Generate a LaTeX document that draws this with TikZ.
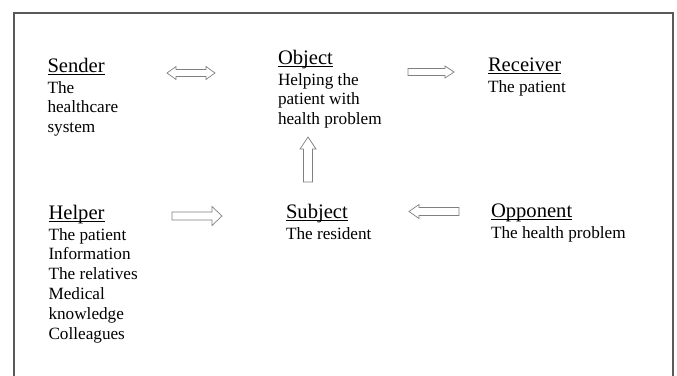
\documentclass[tikz,border=0pt]{standalone}
\usepackage{fontspec}
\setmainfont{Liberation Serif}
\newcommand\ttlfont{\fontsize{20.6pt}{24pt}\selectfont}
\newcommand\bodyfont{\fontsize{17.2pt}{19.8pt}\selectfont}
\newcommand\myul[1]{\setbox0\hbox{#1}\rlap{\rule[-2.4pt]{\wd0}{0.8pt}}\box0}
\newcommand\bline[1]{\hbox{\bodyfont #1}}
\newcommand\blockttl[1]{\hbox{\ttlfont\myul{#1}}\vskip1.2pt}
\begin{document}
\begin{tikzpicture}[x=1pt,y=-1pt,
  role/.style={anchor=base west,inner sep=0pt,outer sep=0pt,text=black},
  frame/.style={draw=black!65,line width=1.4pt},
  blockarrow/.style={draw=black!50,fill=white,line width=0.7pt,line join=miter}]
\useasboundingbox (0,0) rectangle (677,375);
\draw[frame] (14,376) -- (14,13) -- (673,13) -- (673,376);

\node[role] (sender) at (47.5,72) {\vtop{\baselineskip=19.8pt\blockttl{Sender}\bline{The}\bline{healthcare}\bline{system}}};
\node[role] (object) at (278,64) {\vtop{\baselineskip=19.8pt\blockttl{Object}\bline{Helping the}\bline{patient with}\bline{health problem}}};
\node[role] (receiver) at (488,71.5) {\vtop{\baselineskip=19.8pt\blockttl{Receiver}\bline{The patient}}};
\node[role] (helper) at (48.5,219) {\vtop{\baselineskip=19.8pt\blockttl{Helper}\bline{The patient}\bline{Information}\bline{The relatives}\bline{Medical}\bline{knowledge}\bline{Colleagues}}};
\node[role] (subject) at (286,218) {\vtop{\baselineskip=19.8pt\blockttl{Subject}\bline{The resident}}};
\node[role] (opponent) at (491,217) {\vtop{\baselineskip=19.8pt\blockttl{Opponent}\bline{The health problem}}};

% Sender <-> Object
\draw[blockarrow] (167,73) -- (176,66.5) -- (176,69.5) -- (206,69.5) -- (206,66.5) -- (215,73)
  -- (206,79.5) -- (206,76.5) -- (176,76.5) -- (176,79.5) -- cycle;
% Object -> Receiver
\draw[blockarrow] (408,68.5) -- (445,68.5) -- (445,66) -- (454,72) -- (445,78) -- (445,75.5) -- (408,75.5) -- cycle;
% Subject -> Object (up)
\draw[blockarrow] (303.5,182) -- (303.5,149) -- (300,149) -- (308,137) -- (316,149) -- (312.5,149) -- (312.5,182) -- cycle;
% Helper -> Subject
\draw[blockarrow] (172,212) -- (212,212) -- (212,206.5) -- (222,216) -- (212,225.5) -- (212,220) -- (172,220) -- cycle;
% Opponent -> Subject
\draw[blockarrow] (459,207.5) -- (419,207.5) -- (419,204.5) -- (409,211.5) -- (419,218.5) -- (419,215.5) -- (459,215.5) -- cycle;
\end{tikzpicture}
\end{document}
